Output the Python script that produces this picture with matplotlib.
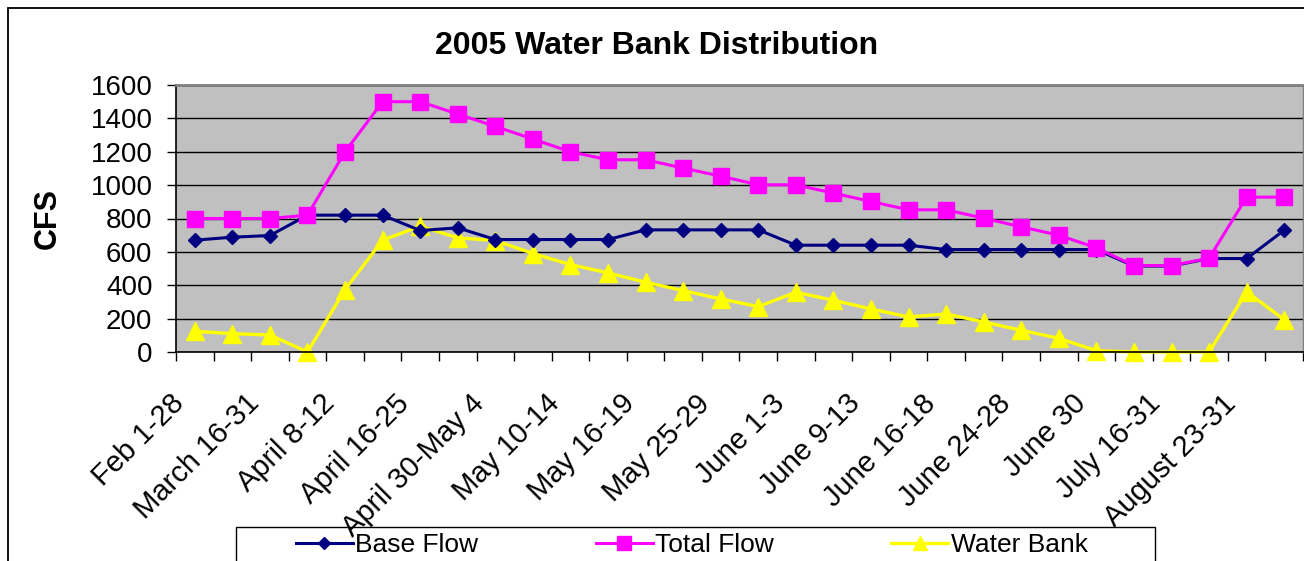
import matplotlib
matplotlib.use("Agg")
import matplotlib.pyplot as plt
from matplotlib.patches import Rectangle
from matplotlib.transforms import ScaledTranslation
import numpy as np

plt.rcParams['font.family'] = ['Liberation Sans', 'DejaVu Sans']

categories = ["Feb 1-28", "", "March 16-31", "", "April 8-12", "", "April 16-25", "",
              "April 30-May 4", "", "May 10-14", "", "May 16-19", "", "May 25-29", "",
              "June 1-3", "", "June 9-13", "", "June 16-18", "", "June 24-28", "",
              "June 30", "", "July 16-31", "", "August 23-31", ""]

base_flow = [670, 688, 698, 820, 820, 820, 728, 744, 674, 674,
             674, 674, 732, 732, 732, 732, 640, 640, 640, 640,
             614, 614, 614, 614, 614, 515, 515, 560, 560, 730]
total_flow = [800, 800, 800, 820, 1200, 1500, 1500, 1426, 1352, 1276,
              1200, 1152, 1152, 1102, 1054, 1002, 1002, 952, 902, 852,
              852, 802, 750, 700, 624, 518, 518, 562, 928, 928]
water_bank = [124, 110, 102, 0, 374, 670, 754, 684, 668, 590,
              524, 474, 418, 368, 318, 272, 358, 310, 258, 210,
              228, 180, 130, 82, 8, 0, 0, 0, 360, 194]

W, H = 1304, 561
fig = plt.figure(figsize=(W / 100, H / 100), dpi=100)

# outer chart frame
fig.patches.append(Rectangle((8 / W, -0.2), 1.2, 1 - 8 / H + 0.2, transform=fig.transFigure,
                             fill=False, edgecolor='black', lw=1.3))

ax = fig.add_axes([176 / W, 1 - 352 / H, (1303 - 176) / W, (352 - 85) / H])
ax.set_facecolor('#C0C0C0')

n = len(categories)
x = np.arange(n)
ax.plot(x, base_flow, color='#000080', lw=2.2, marker='D', ms=7.5, label='Base Flow', zorder=3)
ax.plot(x, total_flow, color='#FF00FF', lw=2.2, marker='s', ms=11.5, label='Total Flow', zorder=4)
ax.plot(x, water_bank, color='#FFFF00', lw=2.4, marker='^', ms=12.5, label='Water Bank', zorder=2,
        clip_on=False)

ax.set_xlim(-0.5, n - 0.5)
ax.set_ylim(0, 1600)
ax.set_yticks(np.arange(0, 1601, 200))
ax.yaxis.grid(True, color='black', lw=1)
ax.set_axisbelow(True)

# x: labels at category centres, ticks at boundaries
ax.set_xticks(x)
ax.set_xticklabels(categories, rotation=45, ha='right', va='center', rotation_mode='anchor',
                   fontsize=21)
ax.set_xticks(np.arange(-0.5, n, 1), minor=True)
ax.tick_params(axis='x', which='major', length=0, pad=34)
ax.tick_params(axis='x', which='minor', length=6.5, width=1, direction='out')
for lab in ax.get_xticklabels():
    lab.set_transform(lab.get_transform() + ScaledTranslation(-15 / 100, 0, fig.dpi_scale_trans))

ax.tick_params(axis='y', length=6.5, width=1, pad=10.5, labelsize=20)

for s in ['left', 'bottom']:
    ax.spines[s].set_color('black')
    ax.spines[s].set_linewidth(1.2)
ax.spines['top'].set_color('#808080')
ax.spines['top'].set_linewidth(2)
ax.spines['right'].set_color('#808080')
ax.spines['right'].set_linewidth(1)

fig.text(656.5 / W, 1 - 46 / H, '2005 Water Bank Distribution', ha='center', va='center',
         fontsize=23, fontweight='bold')
fig.text(48 / W, 1 - 218 / H, 'CFS', rotation=90, ha='center', va='center',
         fontsize=22, fontweight='bold')

# legend box
fig.patches.append(Rectangle((236 / W, -0.2), (1155 - 236) / W, 0.2 + (561 - 527) / H,
                             transform=fig.transFigure, fill=False, edgecolor='black', lw=1))
fig.legend(loc='center left', bbox_to_anchor=(296 / W, 1 - 545 / H), ncol=3, frameon=False,
           fontsize=19, handlelength=2.15, handletextpad=0.1, columnspacing=4.45,
           borderpad=0, borderaxespad=0, numpoints=1, markerscale=0.85)

fig.savefig('out.png', dpi=100)
